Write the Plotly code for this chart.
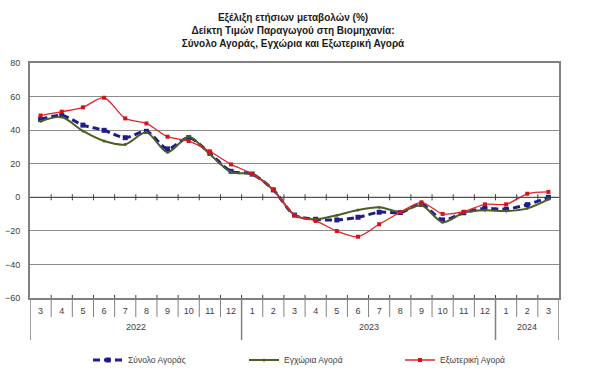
import plotly.graph_objects as go

years = ["2022"] * 10 + ["2023"] * 12 + ["2024"] * 3
months = ["3", "4", "5", "6", "7", "8", "9", "10", "11", "12",
          "1", "2", "3", "4", "5", "6", "7", "8", "9", "10", "11", "12",
          "1", "2", "3"]

total = [46.4, 48.8, 43.0, 39.9, 35.5, 39.3, 28.8, 35.5, 26.2, 15.5, 13.8,
         4.4, -10.6, -13.1, -13.5, -11.9, -8.9, -9.1, -4.2, -13.5, -9.2,
         -6.6, -7.1, -4.4, 0.0]
domestic = [45.3, 47.8, 39.5, 33.5, 31.5, 38.7, 26.8, 36.1, 25.6, 15.0, 13.7,
            4.4, -10.6, -13.1, -10.7, -7.6, -6.0, -8.6, -4.8, -14.9, -9.2,
            -7.7, -8.2, -6.6, -1.2]
external = [48.7, 51.0, 53.6, 59.3, 47.0, 44.0, 36.1, 33.5, 27.4, 19.6, 14.0,
            4.4, -10.6, -14.1, -20.1, -23.5, -16.1, -8.9, -3.0, -9.9, -8.6,
            -4.2, -4.2, 2.1, 3.2]

names = ["Σύνολο Αγοράς", "Εγχώρια Αγορά", "Εξωτερική Αγορά"]
title_lines = ["Εξέλιξη ετήσιων μεταβολών (%)",
               "Δείκτη Τιμών Παραγωγού στη Βιομηχανία:",
               "Σύνολο Αγοράς, Εγχώρια και Εξωτερική Αγορά"]

n = len(months)
idx = list(range(n))

fig = go.Figure()
fig.add_trace(go.Scatter(
    x=idx, y=total, name=names[0], mode="lines+markers",
    line=dict(color="#1c1c8f", width=3, dash="7px,4px", shape="spline", smoothing=0.8),
    marker=dict(symbol="square", size=5, color="#1c1c8f")))
fig.add_trace(go.Scatter(
    x=idx, y=domestic, name=names[1], mode="lines+markers",
    line=dict(color="#4a5e26", width=2, shape="spline", smoothing=0.8),
    marker=dict(symbol="circle", size=3, color="#4a5e26")))
fig.add_trace(go.Scatter(
    x=idx, y=external, name=names[2], mode="lines+markers",
    line=dict(color="#e8202a", width=1.3, shape="spline", smoothing=0.8),
    marker=dict(symbol="square", size=4, color="#d8101a")))

plot_h = 383 - 63 - 85
shapes = []
# small cross ticks on zero line and bottom axis at category boundaries
for k in range(1, n):
    shapes.append(dict(type="line", xref="x", yref="y",
                       x0=k - 0.5, x1=k - 0.5, y0=-1.8, y1=1.8,
                       line=dict(color="#404040", width=1)))
    shapes.append(dict(type="line", xref="x", yref="y",
                       x0=k - 0.5, x1=k - 0.5, y0=-60, y1=-58.2,
                       line=dict(color="#404040", width=1)))
shapes.append(dict(type="line", xref="paper", yref="y", x0=0, x1=1, y0=0, y1=0,
                   line=dict(color="#404040", width=1)))

# month separators and year separators below the axis
year_bounds = [0] + [i for i in range(1, n) if years[i] != years[i - 1]] + [n]
for k in range(1, n):
    if k in year_bounds:
        continue
    shapes.append(dict(type="line", xref="x", yref="paper",
                       x0=k - 0.5, x1=k - 0.5, y0=0, y1=-19 / plot_h,
                       line=dict(color="#808080", width=1)))
for k in year_bounds:
    shapes.append(dict(type="line", xref="x", yref="paper",
                       x0=k - 0.5, x1=k - 0.5, y0=0, y1=-42 / plot_h,
                       line=dict(color="#808080", width=1.5)))

annotations = []
for a, b in zip(year_bounds[:-1], year_bounds[1:]):
    annotations.append(dict(x=(a + b - 1) / 2, y=-29 / plot_h, xref="x", yref="paper",
                            text=years[a], showarrow=False, yanchor="middle",
                            font=dict(size=9, color="#404040")))

fig.update_layout(
    width=600, height=383,
    margin=dict(l=30, r=41, t=63, b=85, autoexpand=False),
    paper_bgcolor="white", plot_bgcolor="white",
    font=dict(family="Liberation Sans, Arial, sans-serif", size=9, color="#404040"),
    title=dict(text="<br>".join("<b>" + t + "</b>" for t in title_lines),
               x=293 / 600, xanchor="center", y=0.946, yanchor="top",
               font=dict(size=10, color="#1a1a1a",
                         family="Liberation Sans, Arial, sans-serif")),
    showlegend=True,
    legend=dict(orientation="h", x=(88 - 30) / 529, xanchor="left",
                y=-62 / plot_h, yanchor="middle",
                font=dict(size=8.5, color="#404040"),
                entrywidth=111, entrywidthmode="pixels"),
    shapes=shapes,
    annotations=annotations,
)
fig.update_yaxes(range=[-60, 80], dtick=20, showgrid=True, gridcolor="#8c8c8c",
                 gridwidth=1, zeroline=False, showline=True, linecolor="#808080",
                 linewidth=2, mirror=True, ticks="", automargin=False,
                 ticklabelstandoff=6, tickfont=dict(size=9, color="#404040"))
fig.update_xaxes(range=[-0.5, n - 0.5], tickvals=idx, ticktext=months,
                 showgrid=False, zeroline=False, showline=True,
                 linecolor="#808080", linewidth=2, mirror=True, ticks="",
                 automargin=False, ticklabelstandoff=3,
                 tickfont=dict(size=9, color="#404040"))

fig.write_html("out.html", config={"displayModeBar": False},
               post_script="document.body.style.margin='0px';")
